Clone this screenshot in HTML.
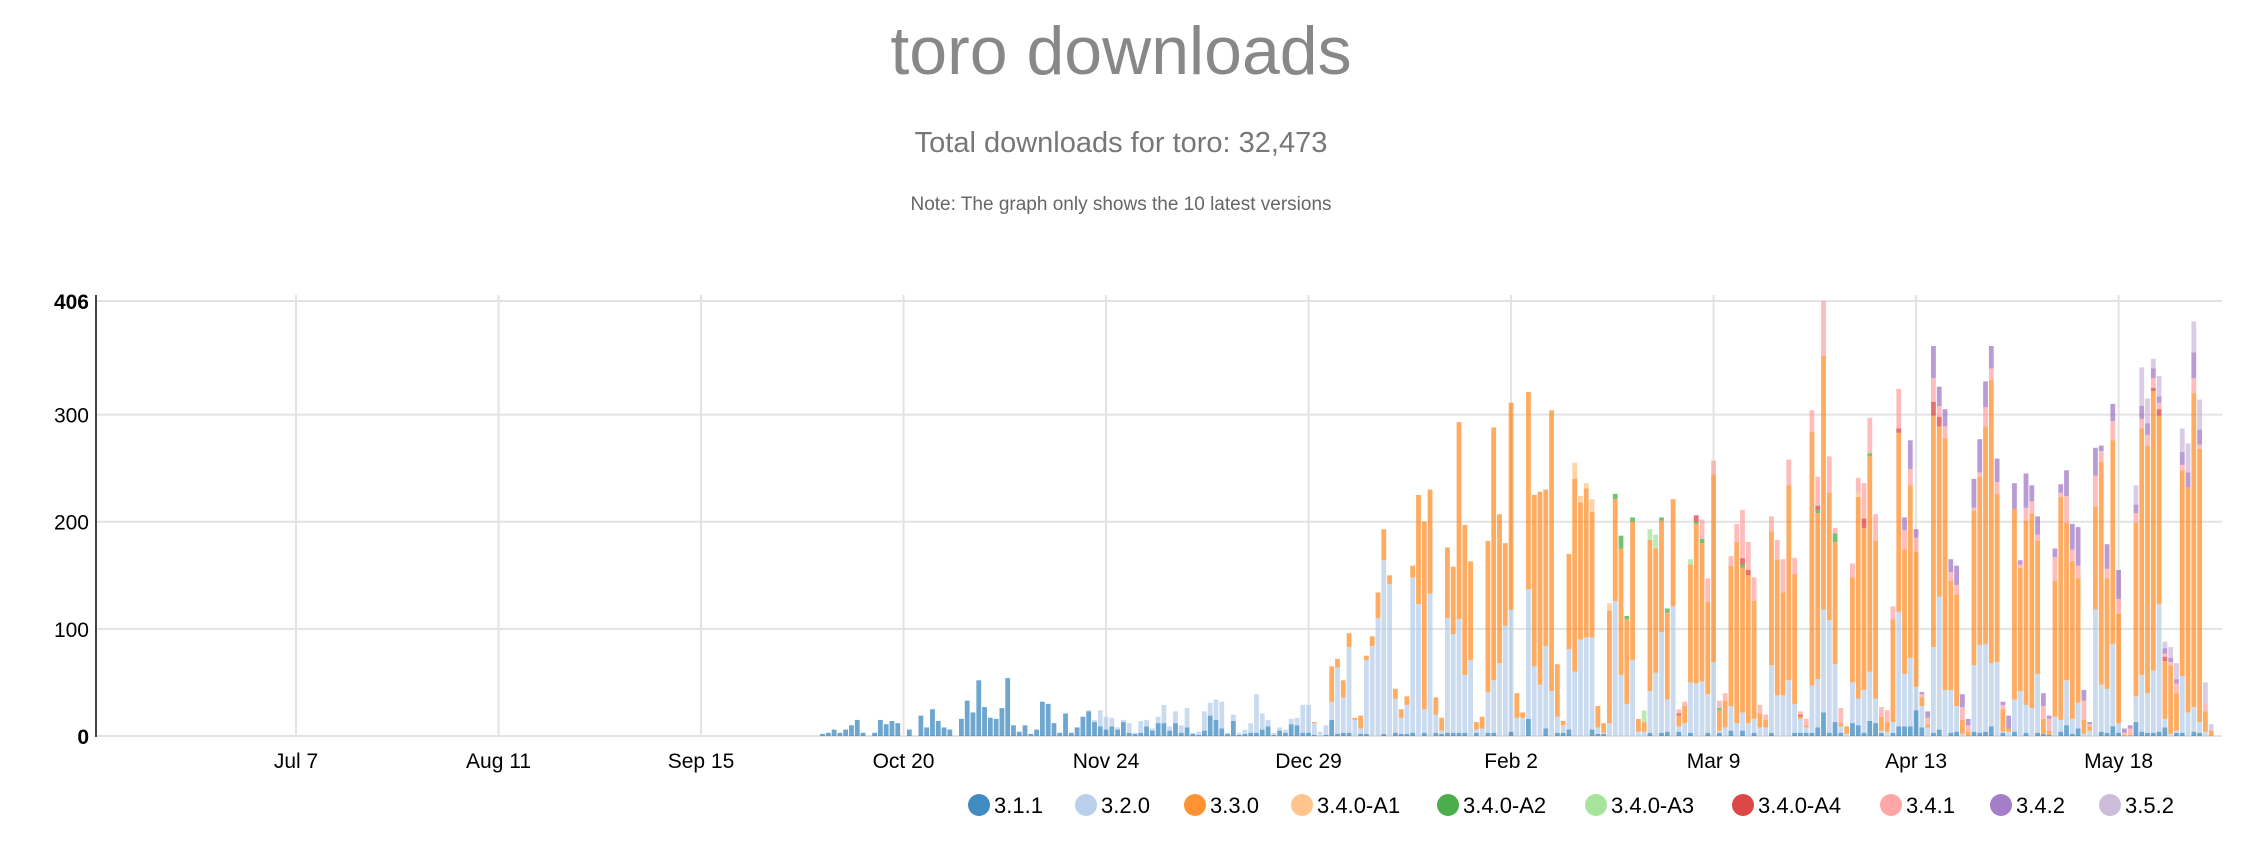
<!DOCTYPE html>
<html><head><meta charset="utf-8"><style>
html,body{margin:0;padding:0;background:#fff;width:2262px;height:846px;overflow:hidden;font-family:"Liberation Sans",sans-serif;}
</style></head><body>
<svg id="chart" width="2262" height="846" xmlns="http://www.w3.org/2000/svg">
<text x="1121" y="74" text-anchor="middle" font-size="68" fill="#888">toro downloads</text>
<text x="1121" y="152" text-anchor="middle" font-size="29" fill="#777">Total downloads for toro: 32,473</text>
<text x="1121" y="210" text-anchor="middle" font-size="19" fill="#666">Note: The graph only shows the 10 latest versions</text>
<g id="grid"></g><g id="bars"></g><g id="axes"></g><g id="legend"></g>
</svg>
<script>
const seriesNames=["3.1.1","3.2.0","3.3.0","3.4.0-A1","3.4.0-A2","3.4.0-A3","3.4.0-A4","3.4.1","3.4.2","3.5.2"];
const seriesColors=["#1f77b4","#aec7e8","#ff7f0e","#ffbb78","#2ca02c","#98df8a","#d62728","#ff9896","#9467bd","#c5b0d5"];
const yTicks=[0,100,200,300,406];
const xTickLabels=["Jul 7","Aug 11","Sep 15","Oct 20","Nov 24","Dec 29","Feb 2","Mar 9","Apr 13","May 18"];
const xTickDays=[35,70,105,140,175,210,245,280,315,350];
const firstDataDay=121;
const s311=[0,0,0,0,0,2,3,6,3,6,10,15,3,0,3,15,11,14,12,0,6,0,19,8,25,14,8,6,0,16,33,22,52,27,17,16,26,54,10,4,10,2,6,32,30,12,3,21,3,8,18,
23,13,9,6,9,6,13,3,2,3,9,5,12,12,5,12,3,8,2,1,5,19,15,7,2,14,1,2,3,3,6,9,1,5,3,11,10,3,3,1,0,1,
15,2,3,3,0,2,2,0,0,2,0,3,2,2,3,0,3,0,3,2,3,3,3,3,0,3,0,3,3,0,0,4,0,0,16,0,0,7,0,3,3,6,0,0,0,6,2,2,0,
0,0,0,0,0,0,3,0,3,4,0,4,0,3,0,0,3,0,3,0,5,0,5,0,3,0,0,3,0,0,0,3,3,3,3,8,22,3,13,3,0,12,10,3,14,12,3,0,3,9,
9,9,24,8,0,3,6,0,3,4,0,0,4,3,4,9,0,3,0,4,0,3,0,3,2,1,0,4,10,2,7,0,0,0,4,3,9,3,0,0,13,4,3,3,4,8,0,3,3,0,4,3,0,0];
const s320=[0,0,0,0,0,0,0,0,0,0,0,0,0,0,0,0,0,0,0,0,0,0,0,0,0,0,0,0,0,0,0,0,0,0,0,0,0,0,0,0,0,0,0,0,0,0,0,0,0,0,0,
1,2,15,12,8,2,2,9,1,11,6,2,6,17,4,11,7,18,1,3,18,12,19,25,1,6,2,4,9,36,15,6,2,3,3,5,7,26,26,11,4,9,
17,62,33,80,15,5,69,84,110,162,142,32,15,27,145,123,22,133,17,3,107,92,106,54,71,3,7,38,49,68,103,114,17,17,121,65,48,77,42,15,7,75,60,90,92,86,6,1,12,
126,57,30,71,4,4,39,59,94,30,121,5,12,47,49,51,36,69,2,8,23,12,17,12,13,8,8,63,38,38,52,27,13,5,44,45,96,105,54,6,2,38,25,40,46,23,2,4,10,107,
49,64,22,20,8,80,124,43,40,24,2,0,62,82,82,59,69,1,4,30,42,26,26,55,0,0,18,11,42,14,24,2,5,118,44,41,77,9,0,0,24,53,37,58,119,8,2,2,53,22,23,10,4,0];
const s330=[0,0,0,0,0,0,0,0,0,0,0,0,0,0,0,0,0,0,0,0,0,0,0,0,0,0,0,0,0,0,0,0,0,0,0,0,0,0,0,0,0,0,0,0,0,0,0,0,0,0,0,0,0,0,0,0,0,0,0,0,0,0,0,0,0,0,0,0,0,0,0,0,0,0,0,0,0,0,0,0,0,0,0,0,0,0,0,0,0,0,1,0,0,
33,8,16,13,2,12,4,9,24,29,8,9,8,8,11,102,175,97,16,12,66,63,184,140,92,7,11,141,236,139,77,193,23,5,184,160,180,146,262,49,4,89,180,128,139,117,20,9,105,
95,118,79,129,12,9,141,116,104,81,100,10,16,110,149,129,86,175,19,25,131,169,135,138,110,13,7,125,127,96,182,121,2,2,237,155,237,119,114,3,7,98,188,151,201,147,13,9,96,167,
116,161,126,8,3,216,159,235,102,104,13,4,144,157,203,264,157,21,3,178,115,172,182,124,14,4,127,208,147,147,116,13,4,96,208,103,190,102,1,1,162,230,231,261,176,54,64,35,192,210,293,255,19,5];
const s34A1Start=135;
const s34A1=[15,6,5,12,0,0,7,0,0,0,0,0,0,0,0,0,0,0,0,0,0,0,0,0,0,0,0,0,0,0,0,0,0,0,0,0,0,0,0,0,0,0,0,0,0,0,0,0,0,4];
const s34A2Start=142;
const s34A2=[5,12,3,4,0,0,0,0,3,4,0,0,0,0,2,4,0,0,2,0,0,0,3,0,0,0,0,0,0,0,0,0,0,0,0,3,0,0,8,0,0,0,0,0,3];
const s34A3Start=147;
const s34A3=[11,10,13,0,0,0,0,0,5];
const s34A4Start=153;
const s34A4=[2,0,0,6,0,0,0,0,0,0,0,6,5,0,0,0,0,0,0,0,0,2,0,0,4,0,0,0,0,0,0,0,9,0,0,0,0,0,4,0,0,0,0,0,13,9,0,0,0,0,0,0,0,0,0,0,0,0,0,0,0,0,0,0,0,0,0,0,0,0,0,0,0,0,0,0,0,0,0,0,0,0,3,6,4];
const s341Start=153;
const s341=[4,4,0,0,18,22,13,7,7,9,17,45,26,22,8,5,14,18,31,24,15,3,6,20,27,51,34,5,14,0,13,14,33,33,25,9,11,12,37,18,15,13,3,6,22,10,11,8,9,12,6,3,4,18,11,11,4,0,0,3,12,11,6,12,11,22,4,25,11,12,18,2,29,10,9,18,14,2,6,9,9,10,9,6,3,3,9,5,0,14,4,7,0];
const s342Start=192;
const s342=[12,27,8,2,6,30,18,16,12,18,12,6,27,31,24,21,22,3,12,24,4,32,15,17,12,3,8,8,24,24,36,10,2,26,5,23,16,27,4,3,8,12,11,9,6,5,4,4,12,14,24,14,0,0];
const s352Start=232;
const s352=[18,36,23,9,19,6,10,15,22,27,29,28,20,6];

const NS="http://www.w3.org/2000/svg";
const X0=93.5, PPD=5.786, Y0=736, YTOP=301, YMAX=406;
function xScale(day){return X0+day*PPD;}
function yScale(v){return Y0-(v/YMAX)*(Y0-YTOP);}
function mk(tag,attrs,parent){const e=document.createElementNS(NS,tag);for(const k in attrs)e.setAttribute(k,attrs[k]);parent.appendChild(e);return e;}
const grid=document.getElementById('grid'),bars=document.getElementById('bars'),axes=document.getElementById('axes'),legend=document.getElementById('legend');
yTicks.forEach(t=>{
  const l=mk('line',{x1:96,x2:2222,y1:yScale(t),y2:yScale(t),stroke:'#e3e3e3','stroke-width':2},grid);
  
  
  const tx=mk('text',{x:89,y:yScale(t)+8,'text-anchor':'end','font-size':21,fill:'#000','font-weight':(t===0||t===YMAX)?'bold':'normal'},axes);
  tx.textContent=t;
  
  
});
xTickDays.forEach((d,i)=>{
  const l=mk('line',{x1:xScale(d),x2:xScale(d),y1:295,y2:736,stroke:'#e3e3e3','stroke-width':2},grid);
  
  
  const tx=mk('text',{x:xScale(d),y:768,'text-anchor':'middle','font-size':21,fill:'#000'},axes);
  tx.textContent=xTickLabels[i];
  
  
});
const ax=mk('line',{x1:96,x2:96,y1:295,y2:737,stroke:'#444','stroke-width':2},axes);



const series=[[s311,0],[s320,0],[s330,0],[s34A1,s34A1Start],[s34A2,s34A2Start],[s34A3,s34A3Start],[s34A4,s34A4Start],[s341,s341Start],[s342,s342Start],[s352,s352Start]];
const n=s311.length;
for(let i=0;i<n;i++){
  let acc=0;
  series.forEach((s,k)=>{
    const arr=s[0],st=s[1];
    const v=(i>=st&&i-st<arr.length)?arr[i-st]:0;
    if(v>0){
      const cx=xScale(firstDataDay+i);
      const r=mk('rect',{x:cx-2.4,width:4.8,y:yScale(acc+v),height:yScale(acc)-yScale(acc+v),fill:seriesColors[k],'fill-opacity':0.65},bars);
      
      
    }
    acc+=v;
  });
}
const legX=[979,1086,1195,1302,1448,1596,1743,1891,2001,2110];
seriesNames.forEach((nm,k)=>{
  const c=mk('circle',{cx:legX[k],cy:805,r:11,fill:seriesColors[k],'fill-opacity':0.85},legend);
  
  
  const t=mk('text',{x:legX[k]+15,y:813,'font-size':22,fill:'#000'},legend);
  t.textContent=nm;
  
  
});
</script>
</body></html>
